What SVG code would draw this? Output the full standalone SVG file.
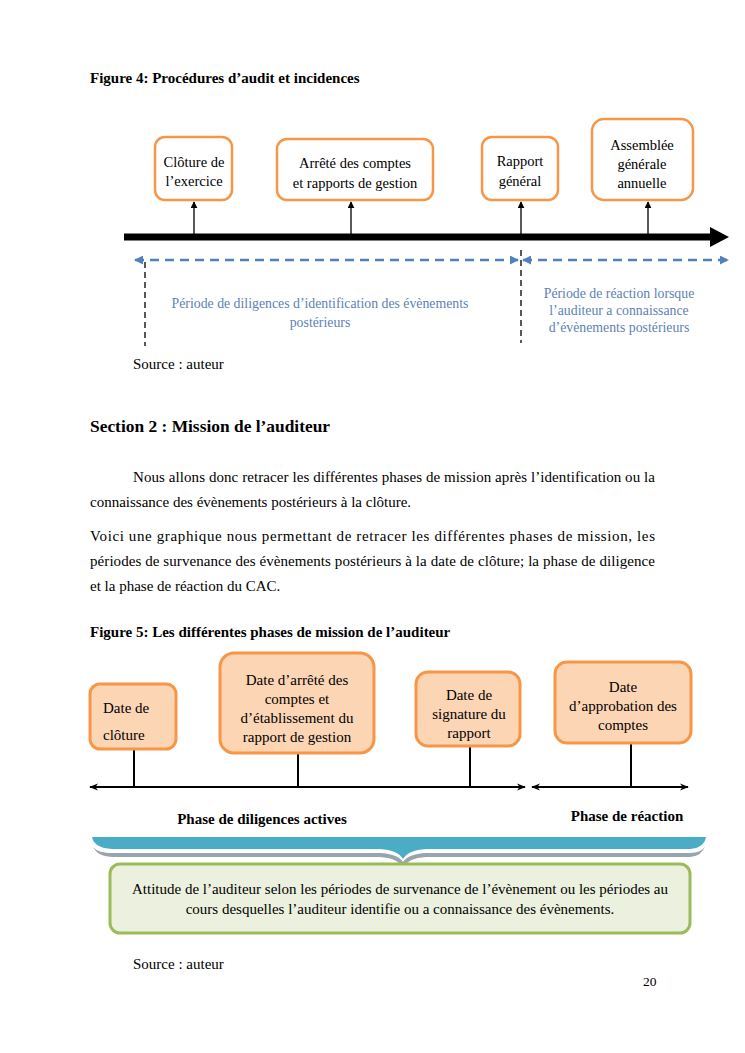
<svg xmlns="http://www.w3.org/2000/svg" width="745" height="1053" viewBox="0 0 745 1053">
<defs>
<style>
text{font-family:"Liberation Serif","Times New Roman",serif;fill:#000}
.t{font-size:15px}
.s{font-size:14.5px}
.b{font-weight:bold}
.c{text-anchor:middle}
.bx{fill:#fff;stroke:#f79646;stroke-width:2.5}
.bx2{fill:#fcd5b4;stroke:#f79646;stroke-width:3}
.blue{fill:#5d82b8;font-size:13.8px}
.bd{stroke:#4f81bd;stroke-width:2.5;stroke-dasharray:9,6;fill:none}
.vd{stroke:#000;stroke-width:1.3;stroke-dasharray:6,4;fill:none}
.ln{stroke:#000;stroke-width:1.3;fill:none}
.ln2{stroke:#000;stroke-width:2;fill:none}
</style>
<marker id="ah" viewBox="0 0 10 10" refX="9" refY="5" markerWidth="7" markerHeight="7" orient="auto-start-reverse" markerUnits="userSpaceOnUse"><path d="M0,0 L10,5 L0,10 z" fill="#000"/></marker>
<marker id="ab" viewBox="0 0 10 10" refX="9" refY="5" markerWidth="9" markerHeight="9" orient="auto-start-reverse" markerUnits="userSpaceOnUse"><path d="M0,0 L10,5 L0,10 z" fill="#4f81bd"/></marker>
<marker id="ak" viewBox="0 0 10 10" refX="9" refY="5" markerWidth="9" markerHeight="9" orient="auto-start-reverse" markerUnits="userSpaceOnUse"><path d="M0,1 L10,5 L0,9 L3,5 z" fill="#000"/></marker>
</defs>
<rect width="745" height="1053" fill="#fff"/>

<text x="90" y="83" class="b" font-size="15">Figure 4: Procédures d’audit et incidences</text>

<g id="connectors">
<line x1="124" y1="237" x2="712" y2="237" stroke="#000" stroke-width="7"/>
<path d="M710,227 L729,237 L710,247 z" fill="#000"/>
<line x1="194" y1="235" x2="194" y2="202" class="ln" marker-end="url(#ah)"/>
<line x1="351" y1="235" x2="351" y2="202" class="ln" marker-end="url(#ah)"/>
<line x1="521" y1="235" x2="521" y2="202" class="ln" marker-end="url(#ah)"/>
<line x1="648" y1="235" x2="648" y2="202" class="ln" marker-end="url(#ah)"/>
<line x1="135" y1="260" x2="518" y2="260" class="bd" marker-start="url(#ab)" marker-end="url(#ab)"/>
<line x1="523" y1="260" x2="728" y2="260" class="bd" marker-start="url(#ab)" marker-end="url(#ab)"/>
<line x1="145" y1="262" x2="145" y2="346" class="vd"/>
<line x1="521" y1="250" x2="521" y2="343" class="vd"/>

<line x1="134" y1="749" x2="134" y2="787" class="ln2"/>
<line x1="298" y1="753" x2="298" y2="787" class="ln2"/>
<line x1="470" y1="746" x2="470" y2="787" class="ln2"/>
<line x1="631" y1="743" x2="631" y2="787" class="ln2"/>
<line x1="90" y1="787" x2="525" y2="787" class="ln2" marker-start="url(#ak)" marker-end="url(#ak)"/>
<line x1="532" y1="787" x2="688" y2="787" class="ln2" marker-start="url(#ak)" marker-end="url(#ak)"/>
</g>

<g id="n1"><rect x="155" y="137" width="77" height="63" rx="10" class="bx"/>
<text x="194" y="167" class="s c">Clôture de</text><text x="194" y="186" class="s c">l’exercice</text></g>
<g id="n2"><rect x="277" y="139" width="156" height="61" rx="10" class="bx"/>
<text x="355" y="168" class="s c">Arrêté des comptes</text><text x="355" y="188" class="s c">et rapports de gestion</text></g>
<g id="n3"><rect x="482" y="137" width="76" height="63" rx="10" class="bx"/>
<text x="520" y="166" class="s c">Rapport</text><text x="520" y="186" class="s c">général</text></g>
<g id="n4"><rect x="592" y="119" width="101" height="81" rx="12" class="bx"/>
<text x="642" y="150" class="s c">Assemblée</text><text x="642" y="169" class="s c">générale</text><text x="642" y="188" class="s c">annuelle</text></g>

<g id="lbl1"><text x="320" y="308" class="blue c">Période de diligences d’identification des évènements</text>
<text x="320" y="327" class="blue c">postérieurs</text></g>
<g id="lbl2"><text x="619" y="298" class="blue c">Période de réaction lorsque</text>
<text x="619" y="315" class="blue c">l’auditeur a connaissance</text>
<text x="619" y="332" class="blue c">d’évènements  postérieurs</text></g>

<text x="133" y="369" class="t">Source : auteur</text>

<text x="90" y="432" class="b" font-size="17.4">Section 2 : Mission de l’auditeur</text>

<text x="133" y="482" class="t" textLength="522" lengthAdjust="spacing">Nous allons donc retracer les différentes phases de mission après l’identification ou la</text>
<text x="90" y="507" class="t">connaissance des évènements postérieurs à la clôture.</text>
<text x="90" y="541" class="t" textLength="565" lengthAdjust="spacing">Voici une graphique nous permettant de retracer les différentes phases de mission, les</text>
<text x="90" y="566" class="t" textLength="565" lengthAdjust="spacing">périodes de survenance des évènements postérieurs à la date de clôture; la phase de diligence</text>
<text x="90" y="591" class="t">et la phase de réaction du CAC.</text>

<text x="90" y="637" class="b" font-size="15">Figure 5: Les différentes phases de mission de l’auditeur</text>

<g id="m1"><rect x="90" y="684" width="86" height="65" rx="10" class="bx2"/>
<text x="103" y="713" class="t">Date de</text><text x="103" y="740" class="t">clôture</text></g>
<g id="m2"><rect x="220" y="653" width="154" height="100" rx="14" class="bx2"/>
<text x="297" y="685" class="t c">Date d’arrêté des</text><text x="297" y="704" class="t c">comptes et</text><text x="297" y="723" class="t c">d’établissement du</text><text x="297" y="742" class="t c">rapport de gestion</text></g>
<g id="m3"><rect x="416" y="672" width="104" height="74" rx="12" class="bx2"/>
<text x="469" y="700" class="t c">Date de</text><text x="469" y="719" class="t c">signature du</text><text x="469" y="738" class="t c">rapport</text></g>
<g id="m4"><rect x="555" y="662" width="136" height="81" rx="12" class="bx2"/>
<text x="623" y="692" class="t c">Date</text><text x="623" y="711" class="t c">d’approbation des</text><text x="623" y="730" class="t c">comptes</text></g>

<text x="262" y="824" class="b c" font-size="15">Phase de diligences actives</text>
<text x="627" y="821" class="b c" font-size="15">Phase de réaction</text>

<g id="brace">
<path d="M93,846 Q96,856 112,857 L380,857 Q398,858 403,868 Q408,858 426,857 L690,857 Q702,856 705,846 Q702,853 690,853 L426,853 Q408,854 403,862 Q398,854 380,853 L112,853 Q96,853 93,846 z" fill="#98a4ae"/>
<path d="M92,837 L706,837 Q704,848 690,849 L426,849 Q408,850 403,859 Q398,850 380,849 L112,849 Q94,848 92,837 z" fill="#4bacc6"/>
</g>

<g id="attitude"><rect x="110" y="864" width="580" height="69" rx="10" fill="#ebf1de" stroke="#9bbb59" stroke-width="3"/>
<text x="400" y="894" class="t c">Attitude de l’auditeur selon les périodes de survenance de l’évènement ou les périodes au</text>
<text x="400" y="914" class="t c">cours desquelles l’auditeur identifie ou a connaissance des évènements.</text></g>

<text x="133" y="969" class="t">Source : auteur</text>
<text x="643" y="986" font-size="13.5">20</text>
</svg>
